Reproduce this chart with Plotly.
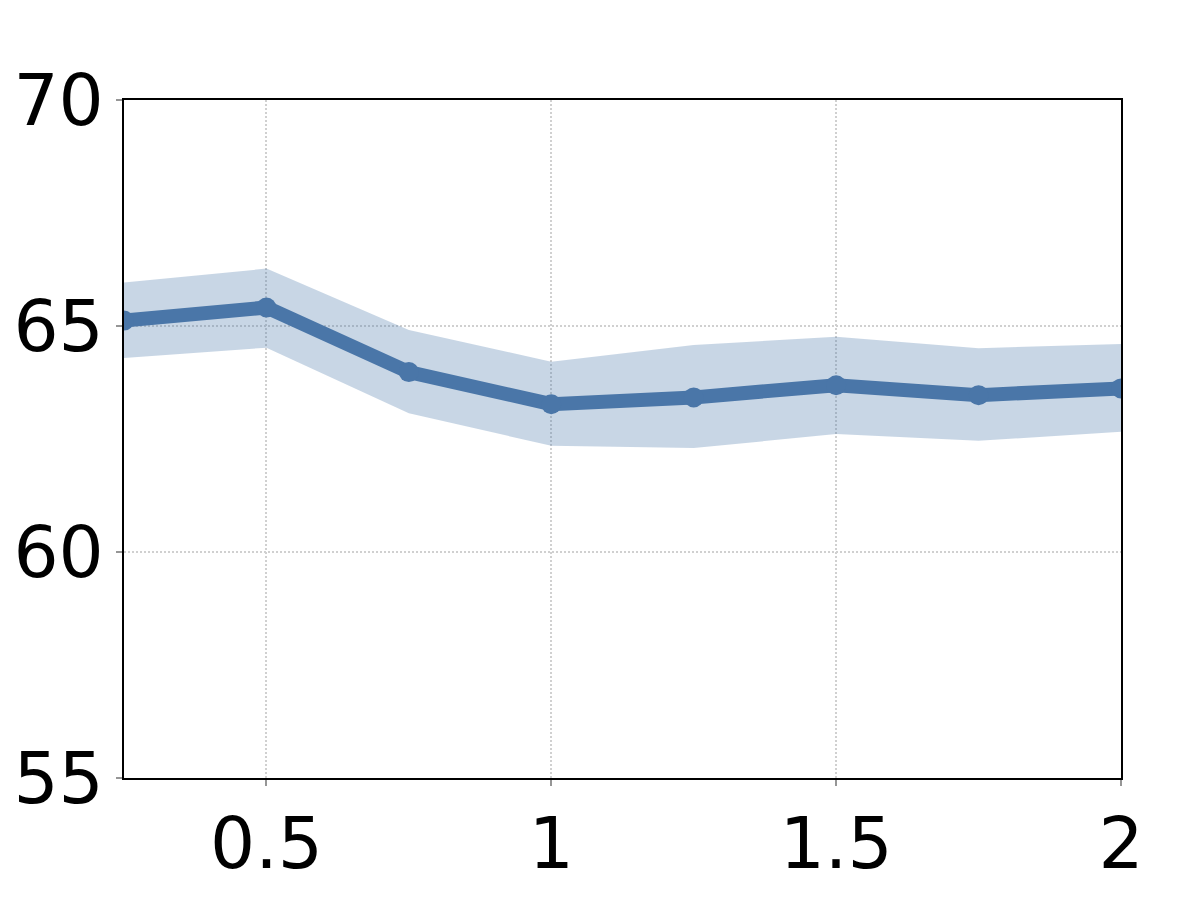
import plotly.graph_objects as go

x_vals = [0.25, 0.5, 0.75, 1.0, 1.25, 1.5, 1.75, 2.0]
mean_vals = [65.12, 65.41, 63.98, 63.27, 63.42, 63.69, 63.47, 63.62]
upper_vals = [65.96, 66.27, 64.91, 64.21, 64.58, 64.76, 64.51, 64.60]
lower_vals = [64.29, 64.52, 63.07, 62.35, 62.30, 62.61, 62.46, 62.66]

x_ticks = [0.5, 1, 1.5, 2]
x_tick_text = ["0.5", "1", "1.5", "2"]
y_ticks = [55, 60, 65, 70]
y_tick_text = ["55", "60", "65", "70"]

line_color = "rgb(74,118,168)"
band_color = "rgba(74,118,168,0.3)"

fig = go.Figure()
fig.add_trace(go.Scatter(x=x_vals, y=upper_vals, mode="lines",
                         line=dict(width=0, color=band_color),
                         showlegend=False, hoverinfo="skip"))
fig.add_trace(go.Scatter(x=x_vals, y=lower_vals, mode="lines",
                         line=dict(width=0, color=band_color),
                         fill="tonexty", fillcolor=band_color,
                         showlegend=False, hoverinfo="skip"))
fig.add_trace(go.Scatter(x=x_vals, y=mean_vals, mode="lines+markers",
                         line=dict(width=14, color=line_color),
                         marker=dict(size=20, color=line_color),
                         showlegend=False))

axis_font = dict(family="DejaVu Sans", size=71, color="black")
grid_color = "rgb(208,208,208)"

fig.update_layout(
    width=1192, height=892,
    margin=dict(l=116, r=79, t=92, b=122),
    paper_bgcolor="white", plot_bgcolor="white",
    xaxis=dict(range=[0.25, 2.0], tickvals=x_ticks, ticktext=x_tick_text,
               showgrid=True, gridcolor=grid_color, griddash="2px,2px", gridwidth=1.6,
               showline=True, linecolor="black", linewidth=2, mirror=True,
               ticks="outside", ticklen=6, tickwidth=2, tickcolor="rgb(150,150,150)",
               tickfont=axis_font, zeroline=False, automargin=False,
               ticklabelstandoff=-3),
    yaxis=dict(range=[55, 70], tickvals=y_ticks, ticktext=y_tick_text,
               showgrid=True, gridcolor=grid_color, griddash="2px,2px", gridwidth=1.6,
               showline=True, linecolor="black", linewidth=2, mirror=True,
               ticks="outside", ticklen=6, tickwidth=2, tickcolor="rgb(150,150,150)",
               tickfont=axis_font, zeroline=False, automargin=False,
               ticklabelstandoff=-2),
)

fig.write_html("out.html")
